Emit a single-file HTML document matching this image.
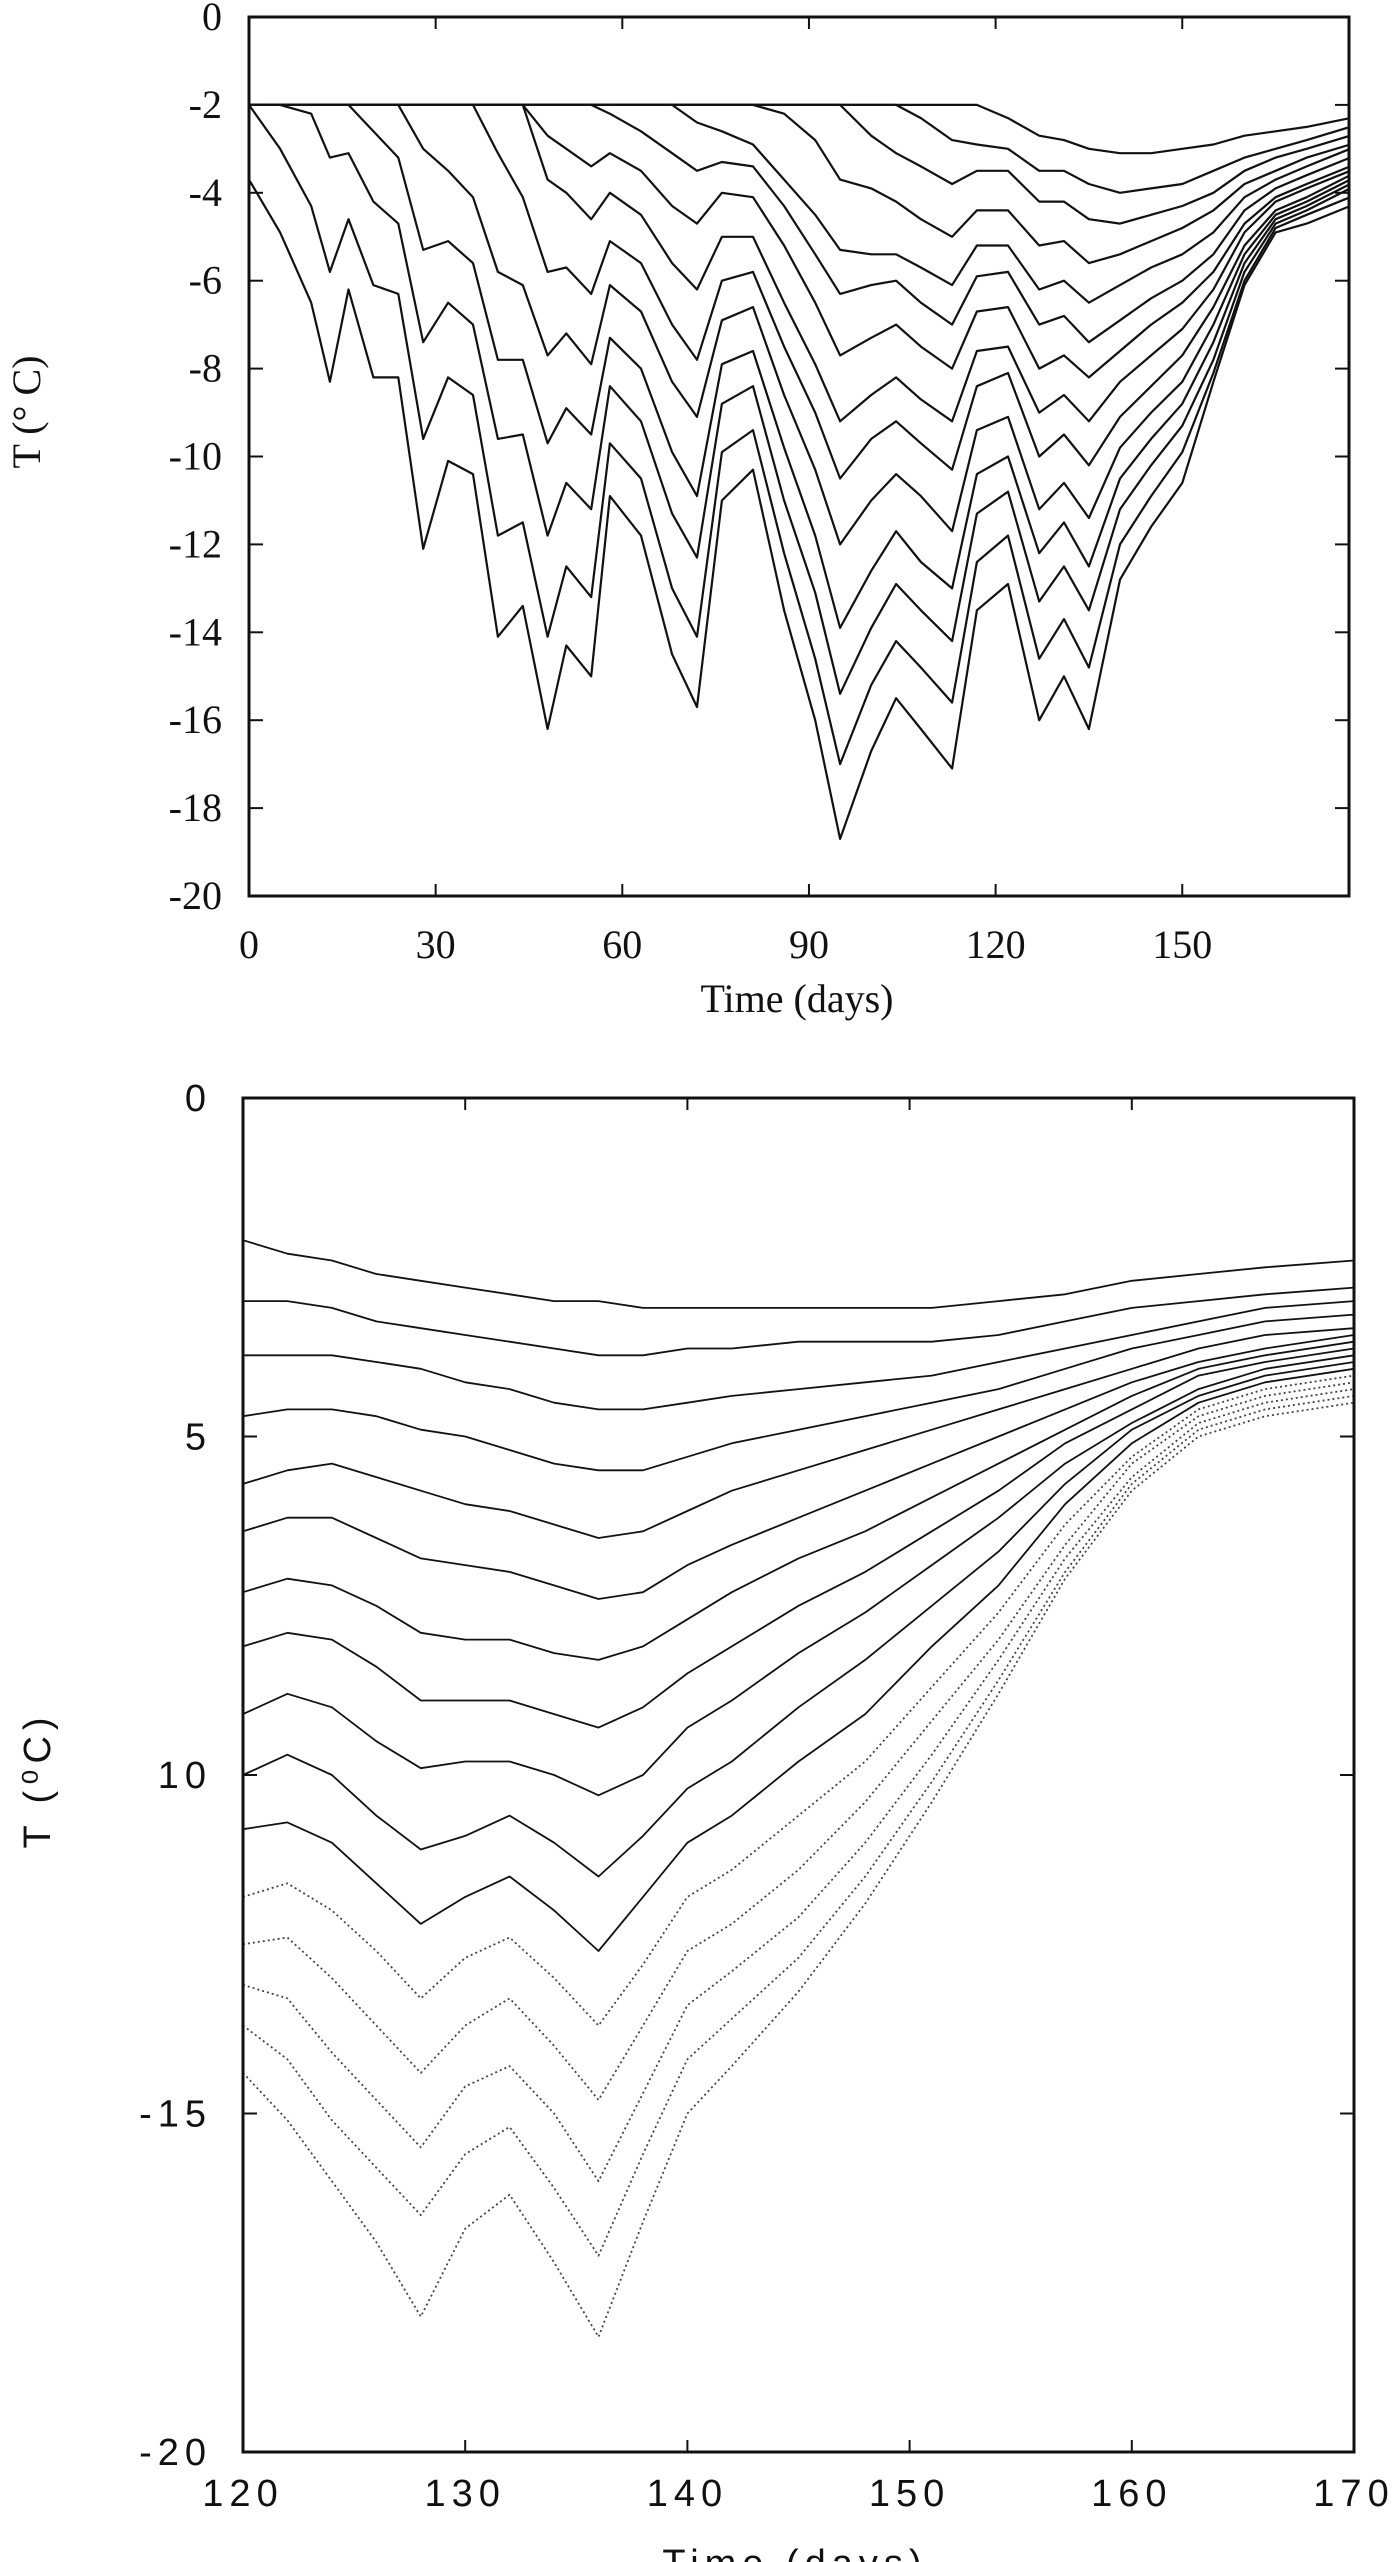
<!DOCTYPE html>
<html><head><meta charset="utf-8"><style>
html,body{margin:0;padding:0;background:#fff;}
svg{display:block;}
.tk{font-family:"Liberation Serif",serif;font-size:40px;fill:#111;}
.tk2{font-family:"Liberation Sans",sans-serif;font-size:38px;fill:#111;letter-spacing:6px;}
</style></head><body>
<svg id="chart" width="1400" height="2562" viewBox="0 0 1400 2562" xmlns="http://www.w3.org/2000/svg">
<g id="top"></g>
<g id="bot"></g>
</svg>
<script>
// ===== Top panel data =====
const topTimes = [0,5,10,13,16,20,24,28,32,36,40,44,48,51,55,58,63,68,72,76,81,86,91,95,100,104,108,113,117,122,127,131,135,140,145,150,155,160,165,170,177];
const topC1 = [-3.7,-4.9,-6.5,-8.3,-6.2,-8.2,-8.2,-12.1,-10.1,-10.4,-14.1,-13.4,-16.2,-14.3,-15.0,-10.9,-11.8,-14.5,-15.7,-11.0,-10.3,-13.5,-16.0,-18.7,-16.7,-15.5,-16.2,-17.1,-13.5,-12.9,-16.0,-15.0,-16.2,-12.8,-11.6,-10.6,-8.3,-6.1,-4.9,-4.7,-4.3];
const topC2 = [-2.0,-3.0,-4.3,-5.8,-4.6,-6.1,-6.3,-9.6,-8.2,-8.6,-11.8,-11.5,-14.1,-12.5,-13.2,-9.7,-10.5,-13.0,-14.1,-9.9,-9.4,-12.2,-14.6,-17.0,-15.2,-14.2,-14.8,-15.6,-12.4,-11.8,-14.6,-13.7,-14.8,-12.0,-10.9,-9.9,-8.1,-6.0,-4.8,-4.5,-4.1];
const topC3 = [-2,-2,-2.2,-3.2,-3.1,-4.2,-4.7,-7.4,-6.5,-7.0,-9.6,-9.5,-11.8,-10.6,-11.2,-8.4,-9.2,-11.3,-12.3,-8.8,-8.4,-11.0,-13.1,-15.4,-13.9,-12.9,-13.5,-14.2,-11.3,-10.8,-13.3,-12.5,-13.5,-11.2,-10.2,-9.3,-7.8,-5.8,-4.7,-4.4,-3.9];
const topC4 = [-2,-2,-2,-2,-2,-2.6,-3.2,-5.3,-5.1,-5.6,-7.8,-7.8,-9.7,-8.9,-9.5,-7.3,-8.0,-9.9,-10.9,-7.9,-7.6,-9.8,-11.8,-13.9,-12.6,-11.7,-12.4,-13.0,-10.4,-10.0,-12.2,-11.5,-12.5,-10.5,-9.6,-8.8,-7.4,-5.6,-4.6,-4.3,-3.8];
const topC5 = [-2,-2,-2,-2,-2,-2,-2,-3.0,-3.5,-4.1,-5.8,-6.1,-7.7,-7.2,-7.9,-6.1,-6.7,-8.3,-9.1,-6.9,-6.6,-8.6,-10.3,-12.0,-11.0,-10.4,-10.9,-11.7,-9.4,-9.1,-11.2,-10.6,-11.4,-9.8,-9.0,-8.3,-7.0,-5.4,-4.5,-4.2,-3.7];
const topC6 = [-2,-2,-2,-2,-2,-2,-2,-2,-2,-2,-3.1,-4.1,-5.8,-5.7,-6.3,-5.1,-5.6,-7.0,-7.8,-6.0,-5.8,-7.5,-9.0,-10.5,-9.6,-9.2,-9.7,-10.3,-8.4,-8.1,-10.0,-9.5,-10.2,-9.1,-8.4,-7.7,-6.6,-5.2,-4.4,-4.1,-3.6];
const topC7 = [-2,-2,-2,-2,-2,-2,-2,-2,-2,-2,-2,-2,-3.7,-4.0,-4.6,-4.0,-4.5,-5.6,-6.2,-5.0,-5.0,-6.5,-7.9,-9.2,-8.6,-8.2,-8.7,-9.2,-7.6,-7.5,-9.0,-8.6,-9.2,-8.3,-7.7,-7.1,-6.2,-4.9,-4.2,-3.9,-3.5];
const topC8 = [-2,-2,-2,-2,-2,-2,-2,-2,-2,-2,-2,-2,-2.7,-3.0,-3.4,-3.1,-3.5,-4.3,-4.7,-4.0,-4.1,-5.2,-6.5,-7.7,-7.3,-7.0,-7.5,-8.0,-6.7,-6.6,-8.0,-7.7,-8.2,-7.6,-7.0,-6.5,-5.8,-4.7,-4.1,-3.8,-3.4];
const topC9 = [-2,-2,-2,-2,-2,-2,-2,-2,-2,-2,-2,-2,-2,-2,-2,-2.2,-2.6,-3.1,-3.5,-3.3,-3.4,-4.3,-5.4,-6.3,-6.1,-6.0,-6.5,-7.0,-5.9,-5.8,-7.0,-6.8,-7.4,-6.9,-6.4,-6.0,-5.4,-4.4,-3.9,-3.6,-3.2];
const topC10 = [-2,-2,-2,-2,-2,-2,-2,-2,-2,-2,-2,-2,-2,-2,-2,-2,-2,-2,-2.4,-2.6,-2.9,-3.7,-4.5,-5.3,-5.4,-5.4,-5.7,-6.1,-5.2,-5.2,-6.2,-6.0,-6.5,-6.1,-5.7,-5.4,-4.9,-4.1,-3.7,-3.4,-3.0];
const topC11 = [-2,-2,-2,-2,-2,-2,-2,-2,-2,-2,-2,-2,-2,-2,-2,-2,-2,-2,-2,-2,-2,-2.2,-2.8,-3.7,-3.9,-4.2,-4.6,-5.0,-4.4,-4.4,-5.2,-5.1,-5.6,-5.4,-5.1,-4.8,-4.4,-3.8,-3.5,-3.2,-2.9];
const topC12 = [-2,-2,-2,-2,-2,-2,-2,-2,-2,-2,-2,-2,-2,-2,-2,-2,-2,-2,-2,-2,-2,-2,-2,-2.0,-2.7,-3.1,-3.4,-3.8,-3.5,-3.5,-4.2,-4.2,-4.6,-4.7,-4.5,-4.3,-4.0,-3.5,-3.2,-3.0,-2.7];
const topC13 = [-2,-2,-2,-2,-2,-2,-2,-2,-2,-2,-2,-2,-2,-2,-2,-2,-2,-2,-2,-2,-2,-2,-2,-2,-2,-2,-2.3,-2.8,-2.9,-3.0,-3.5,-3.5,-3.8,-4.0,-3.9,-3.8,-3.5,-3.2,-3.0,-2.8,-2.5];
const topC14 = [-2,-2,-2,-2,-2,-2,-2,-2,-2,-2,-2,-2,-2,-2,-2,-2,-2,-2,-2,-2,-2,-2,-2,-2,-2,-2,-2,-2,-2,-2.3,-2.7,-2.8,-3.0,-3.1,-3.1,-3.0,-2.9,-2.7,-2.6,-2.5,-2.3];
const topXTicks = [0,30,60,90,120,150];
const topYTicks = [0,-2,-4,-6,-8,-10,-12,-14,-16,-18,-20];

// ===== Bottom panel data =====
const botTimes = [120,122,124,126,128,130,132,134,136,138,140,142,145,148,151,154,157,160,163,166,170];
const botB1 = [-2.1,-2.3,-2.4,-2.6,-2.7,-2.8,-2.9,-3.0,-3.0,-3.1,-3.1,-3.1,-3.1,-3.1,-3.1,-3.0,-2.9,-2.7,-2.6,-2.5,-2.4];
const botB2 = [-3.0,-3.0,-3.1,-3.3,-3.4,-3.5,-3.6,-3.7,-3.8,-3.8,-3.7,-3.7,-3.6,-3.6,-3.6,-3.5,-3.3,-3.1,-3.0,-2.9,-2.8];
const botB3 = [-3.8,-3.8,-3.8,-3.9,-4.0,-4.2,-4.3,-4.5,-4.6,-4.6,-4.5,-4.4,-4.3,-4.2,-4.1,-3.9,-3.7,-3.5,-3.3,-3.1,-3.0];
const botB4 = [-4.7,-4.6,-4.6,-4.7,-4.9,-5.0,-5.2,-5.4,-5.5,-5.5,-5.3,-5.1,-4.9,-4.7,-4.5,-4.3,-4.0,-3.7,-3.5,-3.3,-3.2];
const botB5 = [-5.7,-5.5,-5.4,-5.6,-5.8,-6.0,-6.1,-6.3,-6.5,-6.4,-6.1,-5.8,-5.5,-5.2,-4.9,-4.6,-4.3,-4.0,-3.7,-3.5,-3.4];
const botB6 = [-6.4,-6.2,-6.2,-6.5,-6.8,-6.9,-7.0,-7.2,-7.4,-7.3,-6.9,-6.6,-6.2,-5.8,-5.4,-5.0,-4.6,-4.2,-3.9,-3.7,-3.5];
const botB7 = [-7.3,-7.1,-7.2,-7.5,-7.9,-8.0,-8.0,-8.2,-8.3,-8.1,-7.7,-7.3,-6.8,-6.4,-5.9,-5.4,-4.9,-4.4,-4.0,-3.8,-3.6];
const botB8 = [-8.1,-7.9,-8.0,-8.4,-8.9,-8.9,-8.9,-9.1,-9.3,-9.0,-8.5,-8.1,-7.5,-7.0,-6.4,-5.8,-5.1,-4.6,-4.1,-3.9,-3.7];
const botB9 = [-9.1,-8.8,-9.0,-9.5,-9.9,-9.8,-9.8,-10.0,-10.3,-10.0,-9.3,-8.9,-8.2,-7.6,-6.9,-6.2,-5.4,-4.8,-4.3,-4.0,-3.8];
const botB10 = [-10.0,-9.7,-10.0,-10.6,-11.1,-10.9,-10.6,-11.0,-11.5,-10.9,-10.2,-9.8,-9.0,-8.3,-7.5,-6.7,-5.7,-4.9,-4.4,-4.1,-3.9];
const botB11 = [-10.8,-10.7,-11.0,-11.6,-12.2,-11.8,-11.5,-12.0,-12.6,-11.8,-11.0,-10.6,-9.8,-9.1,-8.1,-7.2,-6.0,-5.1,-4.5,-4.2,-4.0];
const botB12 = [-11.8,-11.6,-12.0,-12.6,-13.3,-12.7,-12.4,-13.0,-13.7,-12.8,-11.8,-11.4,-10.6,-9.8,-8.7,-7.6,-6.3,-5.3,-4.6,-4.3,-4.1];
const botB13 = [-12.5,-12.4,-13.0,-13.7,-14.4,-13.7,-13.3,-14.0,-14.8,-13.7,-12.6,-12.2,-11.4,-10.4,-9.2,-8.0,-6.6,-5.4,-4.7,-4.4,-4.2];
const botB14 = [-13.1,-13.3,-14.1,-14.8,-15.5,-14.6,-14.3,-15.0,-16.0,-14.7,-13.4,-12.9,-12.1,-11.0,-9.7,-8.3,-6.8,-5.6,-4.8,-4.5,-4.3];
const botB15 = [-13.7,-14.2,-15.1,-15.8,-16.5,-15.6,-15.2,-16.1,-17.1,-15.6,-14.2,-13.6,-12.7,-11.5,-10.1,-8.6,-7.0,-5.7,-4.9,-4.6,-4.4];
const botB16 = [-14.4,-15.1,-16.0,-16.9,-18.0,-16.7,-16.2,-17.2,-18.3,-16.6,-15.0,-14.3,-13.2,-11.9,-10.4,-8.8,-7.1,-5.8,-5.0,-4.7,-4.5];
const botXTicks = [120,130,140,150,160,170];
const botYTicks = [0,-5,-10,-15,-20];
const botYLabels = ["0","5","10","-15","-20"];

const NS = "http://www.w3.org/2000/svg";
function mk(parent, tag, attrs){
  const e = document.createElementNS(NS, tag);
  for (const k in attrs) e.setAttribute(k, attrs[k]);
  parent.appendChild(e);
  return e;
}

function drawPanel(g, cfg){
  const sx = t => cfg.L + (t - cfg.x0) / (cfg.x1 - cfg.x0) * (cfg.R - cfg.L);
  const sy = v => cfg.T + (cfg.y0 - v) / (cfg.y0 - cfg.y1) * (cfg.B - cfg.T);
  cfg.series.forEach((vals, i) => {
    const d = vals.map((v, j) => (j ? "L" : "M") + sx(cfg.times[j]).toFixed(1) + " " + sy(v).toFixed(1)).join(" ");
    const p = mk(g, "path", {d: d, fill: "none", stroke: "#111", "stroke-width": cfg.sw, "stroke-linejoin": "round"});
    if (cfg.dotFrom !== undefined && i >= cfg.dotFrom) { p.setAttribute("stroke-dasharray", "2 3"); p.setAttribute("stroke", "#444"); }
    
    
  });
  const fr = mk(g, "rect", {x: cfg.L, y: cfg.T, width: cfg.R - cfg.L, height: cfg.B - cfg.T, fill: "none", stroke: "#111", "stroke-width": 3});
  
  
  cfg.xt.forEach(t => {
    const x = sx(t);
    mk(g, "line", {x1: x, y1: cfg.B, x2: x, y2: cfg.B - 12, stroke: "#111", "stroke-width": 2});
    mk(g, "line", {x1: x, y1: cfg.T, x2: x, y2: cfg.T + 12, stroke: "#111", "stroke-width": 2});
    const tx = mk(g, "text", {x: x, y: cfg.xly, "text-anchor": "middle", class: cfg.cls});
    tx.textContent = String(t);
    
    
  });
  cfg.yt.forEach((v, i) => {
    const y = sy(v);
    mk(g, "line", {x1: cfg.L, y1: y, x2: cfg.L + 14, y2: y, stroke: "#111", "stroke-width": 2});
    mk(g, "line", {x1: cfg.R, y1: y, x2: cfg.R - 14, y2: y, stroke: "#111", "stroke-width": 2});
    const tx = mk(g, "text", {x: cfg.ylx, y: y + 13, "text-anchor": "end", class: cfg.cls});
    tx.textContent = cfg.ylab ? cfg.ylab[i] : String(v);
    
    
  });
}

const topG = document.getElementById("top");
drawPanel(topG, {prefix: "top", L: 249, R: 1349, T: 17, B: 896, x0: 0, x1: 176.8, y0: 0, y1: -20,
  times: topTimes, series: [topC1, topC2, topC3, topC4, topC5, topC6, topC7, topC8, topC9, topC10, topC11, topC12, topC13, topC14],
  sw: 2.2, xt: topXTicks, yt: topYTicks, cls: "tk", xly: 958, ylx: 222});
const botG = document.getElementById("bot");
drawPanel(botG, {prefix: "bottom", L: 243, R: 1354, T: 1098, B: 2452, x0: 120, x1: 170, y0: 0, y1: -20,
  times: botTimes, series: [botB1, botB2, botB3, botB4, botB5, botB6, botB7, botB8, botB9, botB10, botB11, botB12, botB13, botB14, botB15, botB16],
  sw: 1.8, dotFrom: 11, xt: botXTicks, yt: botYTicks, ylab: botYLabels, cls: "tk2", xly: 2506, ylx: 212});

const t1 = mk(topG, "text", {x: 797, y: 1012, "text-anchor": "middle", class: "tk"});
t1.textContent = "Time (days)";


const t2 = mk(topG, "text", {x: 0, y: 0, "text-anchor": "middle", class: "tk", transform: "translate(40,412) rotate(-90)"});
t2.textContent = "T (° C)";


const t3 = mk(botG, "text", {x: 795, y: 2576, "text-anchor": "middle", class: "tk2"});
t3.textContent = "Time (days)";


const t4 = mk(botG, "text", {x: 0, y: 0, "text-anchor": "middle", class: "tk2", transform: "translate(50,1780) rotate(-90)"});
t4.textContent = "T (⁰C)";


</script>
</body></html>
